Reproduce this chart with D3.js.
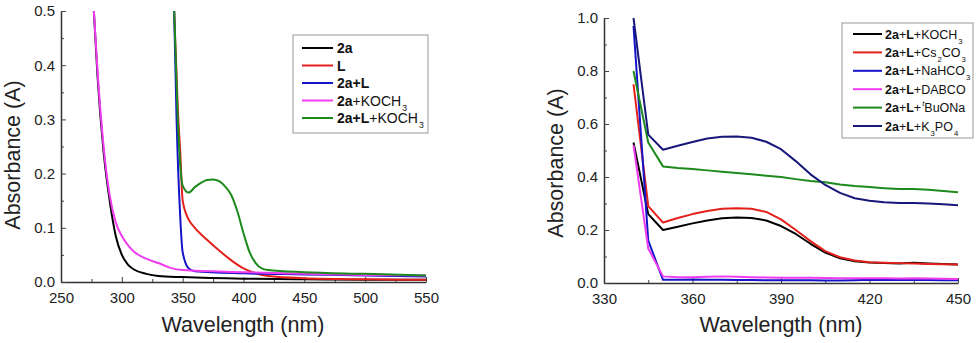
<!DOCTYPE html>
<html>
<head>
<meta charset="utf-8">
<script src="https://cdnjs.cloudflare.com/ajax/libs/d3/7.8.5/d3.min.js"></script>
<style>
  body { margin: 0; background: #fff; }
  svg { font-family: "Liberation Sans", Arial, sans-serif; }
</style>
</head>
<body>
<div id="chart"></div>
<script>
// ---- left panel data (wavelength nm, absorbance) ----
var leftWl2a = [277, 280, 285, 290, 295, 300, 305, 310, 320, 330, 350, 400, 450, 500, 550];
var leftAbs2a = [0.5, 0.38, 0.24, 0.15, 0.085, 0.05, 0.032, 0.023, 0.015, 0.011, 0.009, 0.006, 0.005, 0.004, 0.004];

var leftWlKOCH3 = [277, 280, 285, 290, 295, 300, 305, 310, 320, 330, 340, 350, 400, 450, 500, 550];
var leftAbsKOCH3 = [0.5, 0.39, 0.25, 0.16, 0.11, 0.085, 0.068, 0.056, 0.043, 0.035, 0.026, 0.022, 0.018, 0.015, 0.013, 0.012];

var leftWlL = [343, 346, 348, 350, 355, 360, 370, 380, 390, 400, 410, 420, 450, 500, 550];
var leftAbsL = [0.5, 0.32, 0.24, 0.15, 0.115, 0.1, 0.078, 0.058, 0.04, 0.025, 0.016, 0.011, 0.007, 0.005, 0.004];

var leftWl2aL = [343, 345, 348, 350, 355, 360, 400, 450, 500, 550];
var leftAbs2aL = [0.5, 0.3, 0.12, 0.055, 0.025, 0.02, 0.016, 0.014, 0.012, 0.01];

var leftWl2aLK = [343, 346, 350, 355, 360, 365, 370, 375, 380, 385, 390, 395, 400, 405, 410, 415, 420, 450, 500, 550];
var leftAbs2aLK = [0.5, 0.3, 0.178, 0.165, 0.175, 0.183, 0.188, 0.189, 0.186, 0.176, 0.16, 0.13, 0.09, 0.055, 0.035, 0.025, 0.022, 0.018, 0.015, 0.012];

var leftNames = ["2a", "L", "2a+L", "2a+KOCH3", "2a+L+KOCH3"];
var leftColors = ["#000000", "#e3201c", "#1414c8", "#f03cf0", "#1c8a1c"];

// ---- right panel data ----
var rightWl = [340, 345, 350, 355, 360, 365, 370, 375, 380, 385, 390, 395, 400, 405, 410, 415, 420, 425, 430, 435, 440, 445, 450];
var rightKOCH3 = [0.53, 0.26, 0.2, 0.212, 0.225, 0.236, 0.244, 0.247, 0.245, 0.236, 0.215, 0.185, 0.148, 0.115, 0.093, 0.082, 0.077, 0.075, 0.074, 0.076, 0.074, 0.072, 0.07];
var rightCs2CO3 = [0.75, 0.29, 0.228, 0.245, 0.26, 0.272, 0.28, 0.282, 0.28, 0.268, 0.24, 0.2, 0.158, 0.12, 0.097, 0.085, 0.078, 0.076, 0.075, 0.074, 0.072, 0.071, 0.07];
var rightNaHCO3 = [0.97, 0.16, 0.012, 0.012, 0.013, 0.012, 0.012, 0.011, 0.011, 0.01, 0.01, 0.01, 0.01, 0.009, 0.009, 0.01, 0.012, 0.011, 0.012, 0.011, 0.011, 0.01, 0.01];
var rightDABCO = [0.52, 0.13, 0.025, 0.022, 0.022, 0.024, 0.025, 0.024, 0.022, 0.021, 0.02, 0.02, 0.02, 0.019, 0.018, 0.018, 0.018, 0.018, 0.017, 0.018, 0.017, 0.016, 0.015];
var rightBuONa = [0.8, 0.53, 0.44, 0.434, 0.43, 0.425, 0.42, 0.415, 0.41, 0.405, 0.4, 0.392, 0.385, 0.38, 0.372, 0.366, 0.362, 0.358, 0.355, 0.355, 0.352, 0.347, 0.342];
var rightK3PO4 = [1.0, 0.56, 0.503, 0.518, 0.532, 0.545, 0.552, 0.553, 0.548, 0.533, 0.505, 0.46, 0.41, 0.37, 0.34, 0.32, 0.31, 0.305, 0.302, 0.302, 0.3, 0.297, 0.293];

var rightColors = ["#000000", "#e3201c", "#1414c8", "#f03cf0", "#1c8a1c", "#17177a"];

var svg = d3.select("#chart").append("svg")
    .attr("width", 979)
    .attr("height", 343);

// draws axes with inward major + minor ticks
function drawAxes(g, x, y, xMajor, xMinor, yMajor, yMinor, yFmt) {
    var h = y.range()[0];
    // minor ticks
    g.append("g").attr("transform", "translate(0," + h + ")")
        .call(d3.axisBottom(x).tickValues(xMinor).tickSize(-3).tickFormat(""))
        .call(a => a.select(".domain").remove());
    g.append("g")
        .call(d3.axisLeft(y).tickValues(yMinor).tickSize(-3).tickFormat(""))
        .call(a => a.select(".domain").remove());
    var xa = g.append("g").attr("transform", "translate(0," + h + ")")
        .call(d3.axisBottom(x).tickValues(xMajor).tickSize(-5).tickSizeOuter(0).tickPadding(10));
    var ya = g.append("g")
        .call(d3.axisLeft(y).tickValues(yMajor).tickSize(-5).tickSizeOuter(0).tickPadding(6).tickFormat(yFmt));
    [xa, ya].forEach(function (a) {
        a.selectAll("text").attr("font-size", "15px").attr("fill", "#222");
        a.selectAll(".domain").attr("stroke", "#333").attr("stroke-width", 1.5);
    });
    g.selectAll(".tick line").attr("stroke", "#444");
}

// ---------------- left panel ----------------
var L = { left: 61, top: 11, right: 426, bottom: 282 };
var xL = d3.scaleLinear().domain([250, 550]).range([0, L.right - L.left]);
var yL = d3.scaleLinear().domain([0, 0.5]).range([L.bottom - L.top, 0]);
var gL = svg.append("g").attr("transform", "translate(" + L.left + "," + L.top + ")");

gL.append("clipPath").attr("id", "clipL").append("rect")
    .attr("width", xL.range()[1]).attr("height", yL.range()[0]);

var leftSeries = [
    { name: leftNames[0], wl: leftWl2a, a: leftAbs2a },
    { name: leftNames[1], wl: leftWlL, a: leftAbsL },
    { name: leftNames[2], wl: leftWl2aL, a: leftAbs2aL },
    { name: leftNames[3], wl: leftWlKOCH3, a: leftAbsKOCH3 },
    { name: leftNames[4], wl: leftWl2aLK, a: leftAbs2aLK }
];

var lineL = d3.line().x(d => xL(d[0])).y(d => yL(d[1])).curve(d3.curveMonotoneX);

drawAxes(gL, xL, yL, [250, 300, 350, 400, 450, 500, 550], d3.range(275, 550, 50),
    [0, 0.1, 0.2, 0.3, 0.4, 0.5], d3.range(0.05, 0.5, 0.1), d3.format(".1f"));

gL.append("g").attr("clip-path", "url(#clipL)")
    .selectAll("path").data(leftSeries).enter().append("path")
    .attr("fill", "none")
    .attr("stroke", (d, i) => leftColors[i])
    .attr("stroke-width", 2)
    .attr("d", d => lineL(d.wl.map((w, i) => [w, d.a[i]])));

// ---------------- right panel ----------------
var R = { left: 604, top: 18, right: 958, bottom: 283 };
var xR = d3.scaleLinear().domain([330, 450]).range([0, R.right - R.left]);
var yR = d3.scaleLinear().domain([0, 1.0]).range([R.bottom - R.top, 0]);
var gR = svg.append("g").attr("transform", "translate(" + R.left + "," + R.top + ")");

gR.append("clipPath").attr("id", "clipR").append("rect")
    .attr("y", -2).attr("width", xR.range()[1] + 2).attr("height", yR.range()[0] + 2);

var rightSeries = [rightKOCH3, rightCs2CO3, rightNaHCO3, rightDABCO, rightBuONa, rightK3PO4];

drawAxes(gR, xR, yR, [330, 360, 390, 420, 450], d3.range(345, 450, 30),
    [0, 0.2, 0.4, 0.6, 0.8, 1.0], d3.range(0.1, 1.0, 0.2), d3.format(".1f"));

var lineR = d3.line().x(d => xR(d[0])).y(d => yR(d[1]));

gR.append("g").attr("clip-path", "url(#clipR)")
    .selectAll("path").data(rightSeries).enter().append("path")
    .attr("fill", "none")
    .attr("stroke", (d, i) => rightColors[i])
    .attr("stroke-width", 2)
    .attr("stroke-linejoin", "round")
    .attr("d", d => lineR(rightWl.map((w, i) => [w, d[i]])));

// ---------------- axis titles ----------------
svg.append("text").attr("x", 243).attr("y", 332).attr("text-anchor", "middle")
    .attr("font-size", "21.5px").attr("fill", "#222").text("Wavelength (nm)");
svg.append("text").attr("x", 781).attr("y", 332).attr("text-anchor", "middle")
    .attr("font-size", "21.5px").attr("fill", "#222").text("Wavelength (nm)");
svg.append("text").attr("transform", "translate(20,155) rotate(-90)").attr("text-anchor", "middle")
    .attr("font-size", "21.5px").attr("fill", "#222").text("Absorbance (A)");
svg.append("text").attr("transform", "translate(563,163) rotate(-90)").attr("text-anchor", "middle")
    .attr("font-size", "21.5px").attr("fill", "#222").text("Absorbance (A)");

// ---------------- legends ----------------
// each label is a list of [text, style] pieces: b = bold, sub, sup (italic)
var leftLabels = [
    [["2a", "b"]],
    [["L", "b"]],
    [["2a+L", "b"]],
    [["2a", "b"], ["+KOCH", ""], ["3", "sub"]],
    [["2a+L", "b"], ["+KOCH", ""], ["3", "sub"]]
];
var rightLabels = [
    [["2a", "b"], ["+", ""], ["L", "b"], ["+KOCH", ""], ["3", "sub"]],
    [["2a", "b"], ["+", ""], ["L", "b"], ["+Cs", ""], ["2", "sub"], ["CO", ""], ["3", "sub"]],
    [["2a", "b"], ["+", ""], ["L", "b"], ["+NaHCO", ""], ["3", "sub"]],
    [["2a", "b"], ["+", ""], ["L", "b"], ["+DABCO", ""]],
    [["2a", "b"], ["+", ""], ["L", "b"], ["+", ""], ["t", "sup"], ["BuONa", ""]],
    [["2a", "b"], ["+", ""], ["L", "b"], ["+K", ""], ["3", "sub"], ["PO", ""], ["4", "sub"]]
];

function drawLegend(box, rows, colors, x0, x1, tx, y0, dy, fs) {
    svg.append("rect").attr("x", box[0]).attr("y", box[1]).attr("width", box[2]).attr("height", box[3])
        .attr("fill", "#fff").attr("stroke", "#999").attr("stroke-width", 1);
    rows.forEach(function (parts, i) {
        var y = y0 + i * dy;
        svg.append("line").attr("x1", x0).attr("x2", x1).attr("y1", y).attr("y2", y)
            .attr("stroke", colors[i]).attr("stroke-width", 2);
        var t = svg.append("text").attr("x", tx).attr("y", y + fs * 0.36).attr("font-size", fs + "px").attr("fill", "#111");
        var shift = 0;
        parts.forEach(function (p) {
            var s = t.append("tspan").text(p[0]);
            var want = 0;
            if (p[1] === "b") s.attr("font-weight", "bold");
            if (p[1] === "sub") { s.attr("font-size", (fs * 0.62) + "px").attr("dx", 1); want = 5; }
            if (p[1] === "sup") { s.attr("font-size", (fs * 0.62) + "px").attr("font-style", "italic").attr("dx", 1); want = -6; }
            if (want !== shift) { s.attr("dy", want - shift); shift = want; }
        });
    });
}

drawLegend([293, 35, 135, 98], leftLabels, leftColors, 302, 333, 337, 48, 17.5, 14);
drawLegend([842, 23, 131, 115], rightLabels, rightColors, 853, 882, 885, 34, 18.4, 12.5);
</script>
</body>
</html>
